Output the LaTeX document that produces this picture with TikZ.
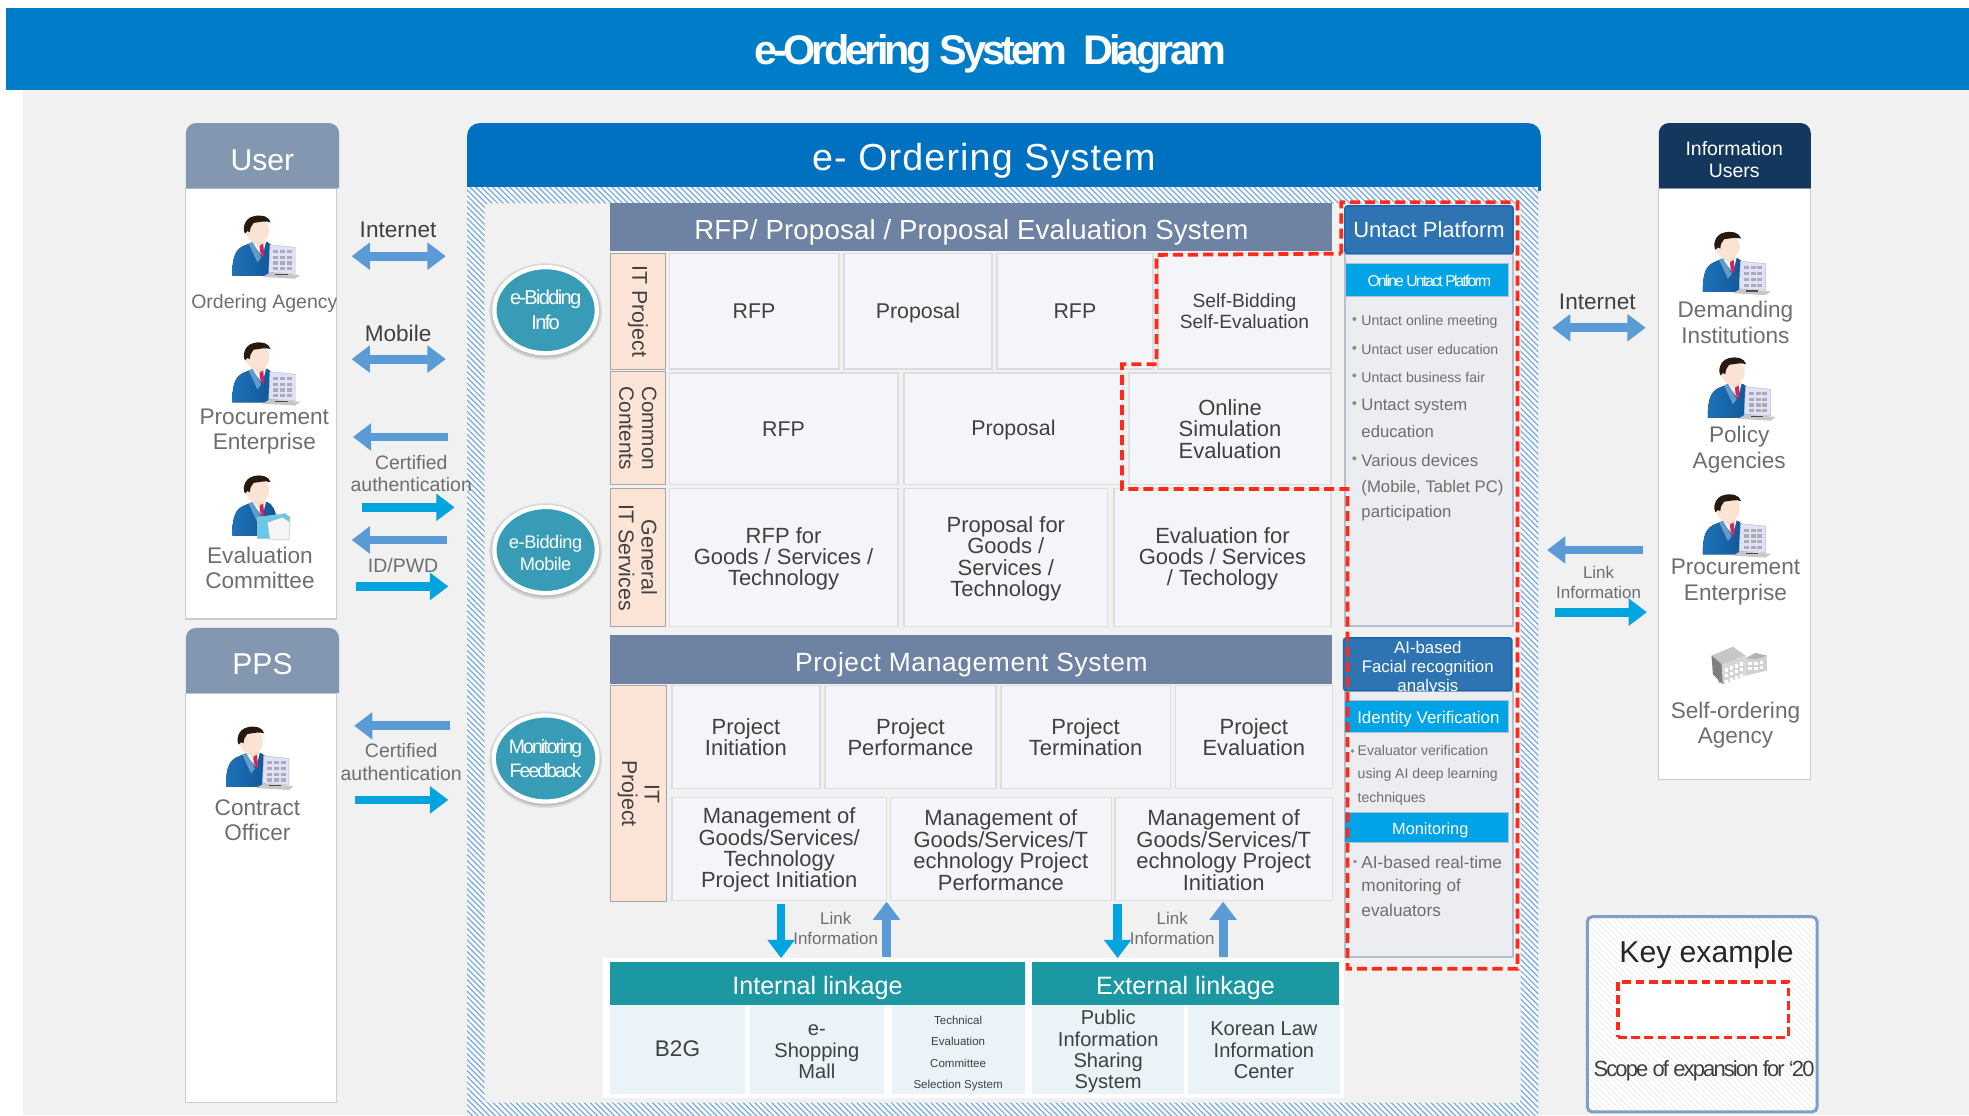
\documentclass[tikz,border=0pt]{standalone}
\usepackage{fontspec}
\setmainfont{Liberation Sans}
\usetikzlibrary{arrows.meta,patterns.meta,shapes.geometric}
\definecolor{headblue}{HTML}{007DC8}
\definecolor{pagegray}{HTML}{F1F1F1}
\definecolor{userhead}{HTML}{8497B0}
\definecolor{navyhead}{HTML}{14375E}
\definecolor{mainblue}{HTML}{0070C0}
\definecolor{slate}{HTML}{6E83A3}
\definecolor{peach}{HTML}{FCE4D6}
\definecolor{cellfill}{HTML}{F3F5F8}
\definecolor{celledge}{HTML}{DDDDDD}
\definecolor{teal1}{HTML}{389CB7}
\definecolor{teal2}{HTML}{1C98A3}
\definecolor{linkfill}{HTML}{EAF3F7}
\definecolor{platblue}{HTML}{2E73B2}
\definecolor{platedge}{HTML}{1468B4}
\definecolor{cyanbar}{HTML}{00A3E6}
\definecolor{panelfill}{HTML}{ECEDF0}
\definecolor{paneledge}{HTML}{B5BFD0}
\definecolor{arrowblue}{HTML}{5B9BD5}
\definecolor{arrowcyan}{HTML}{00A5E0}
\definecolor{dashred}{HTML}{FF2A1A}
\definecolor{txtgray}{HTML}{404040}
\definecolor{txtlight}{HTML}{6E6E6E}
\definecolor{hatchblue}{HTML}{7FAEE0}
\definecolor{keyedge}{HTML}{7F9FC4}
\definecolor{suitlight}{HTML}{1E72B8}
\definecolor{suitdark}{HTML}{0F5596}
\definecolor{facecol}{HTML}{FBE3D3}
\definecolor{tiecol}{HTML}{D0245E}
\newcommand\fz[2]{\fontsize{#1}{#2}\selectfont}
\newcommand\tightfont[1]{\addfontfeature{LetterSpace=#1}}
% box node given by its corners: style, name, x1, y1, x2, y2, text
\newcommand\bx[7]{%
  \pgfmathsetmacro\bxw{#5-#3}\pgfmathsetmacro\bxh{#6-#4}%
  \pgfmathsetmacro\bxx{(#3+#5)/2}\pgfmathsetmacro\bxy{(#4+#6)/2}%
  \node[#1,minimum width=\bxw pt,minimum height=\bxh pt,outer sep=0pt,inner sep=0pt,align=center] (#2) at (\bxx,\bxy) {#7};}
\tikzset{
  lbl/.style={align=center,inner sep=0pt,text=txtgray},
  wlbl/.style={align=center,inner sep=0pt,text=white},
  cellbox/.style={fill=cellfill,draw=celledge,line width=1.2pt,text=txtgray},
  tabbox/.style={fill=peach,draw=black!35,line width=0.8pt,text=txtgray},
  slatebar/.style={fill=slate,text=white},
  whitebody/.style={fill=white,draw=black!20,line width=1pt},
  platbar/.style={fill=platblue,draw=platedge,line width=1.2pt,rounded corners=2pt,text=white},
  cyanhead/.style={fill=cyanbar,draw=paneledge,line width=0.8pt,text=white},
  panelbox/.style={fill=panelfill,draw=paneledge,line width=1.5pt},
  tealbar/.style={fill=teal2,text=white},
  linkcell/.style={fill=linkfill,text=txtgray},
  ball/.style={ellipse,fill=teal1,draw=white,line width=3.4pt,minimum width=81.6pt,minimum height=68.6pt,inner sep=0pt,align=center,text=white},
  ballshadow/.style={fill=black,opacity=0.07},
  blockb/.style={draw=arrowblue,line width=7pt,-{Triangle[length=14.6pt,width=21pt]}},
  blockc/.style={draw=arrowcyan,line width=7pt,-{Triangle[length=14.6pt,width=21pt]}},
  blockd/.style={draw=arrowblue,line width=7pt,{Triangle[length=14.6pt,width=21pt]}-{Triangle[length=14.6pt,width=21pt]}},
  reddash/.style={draw=dashred,line width=3pt,dash pattern=on 8pt off 4pt},
  bullettext/.style={anchor=west,inner sep=0pt,text=txtlight},
  person/.pic={
    % body
    \fill[left color=suitlight,right color=suitdark] (0,48.5) .. controls (0,34) and (2,27) .. (11,24) -- (21,20) -- (28,22) .. controls (32,24) and (34,28) .. (35,34) -- (35,48.5) -- cycle;
    % shirt and tie
    \fill[white!90!gray] (15,22) -- (21,19) -- (27,21) -- (24,33) -- cycle;
    \fill[tiecol] (21.5,22) -- (24.5,22.5) -- (25.5,32) -- (24,34) -- (22,29) -- cycle;
    \fill[suitlight!70!white] (13,23) -- (16,21.5) -- (23,34) -- (20,38) -- cycle;
    % neck and face
    \fill[facecol!92!orange] (16,15) -- (26,15) -- (26,22) -- (21,25) -- (16,21) -- cycle;
    \fill[facecol] (20,12.5) ellipse [x radius=9.5,y radius=9.8];
    % hair
    \fill[black!80!brown] (10.2,15) .. controls (8,12) and (9,3) .. (17,1.2) .. controls (23,-0.3) and (29,1) .. (30.5,6) .. controls (26,4.5) and (22,6) .. (17,6.5) .. controls (15,8.5) and (14,11) .. (14,14) -- (12,13) -- cycle;
  },
  docsheet/.pic={
    \fill[black!22] (24,49.5) -- (50,51) -- (54,48) -- (30,46) -- cycle;
    \fill[white!88!blue,draw=black!25,line width=0.4pt] (30,24) -- (50,26) -- (50,47) -- (29,46) -- cycle;
    \foreach \r in {0,1,2,3}{\foreach \c in {0,1,2}{
      \fill[black!32] (32.5+5.5*\c,28+4.6*\r) rectangle ++(4,2.6);}}
    \fill[black!70] (34,47.2) rectangle (44,48.2);
  },
  folder/.pic={
    \fill[arrowcyan!60!white,draw=black!25,line width=0.4pt] (20,34) -- (42,31) -- (46,34) -- (43,51) -- (20,51) -- cycle;
    \fill[white!92!gray,draw=black!25,line width=0.4pt] (28,38) -- (40,34) -- (46,38) -- (45,52) -- (30,52) -- cycle;
  },
  building/.pic={
    \fill[black!38] (0,8) -- (4,24) -- (6,29) -- (24,24) -- (26,10) -- cycle;
    \fill[black!22] (0,7) -- (17,0) -- (27,7) -- (8,14) -- cycle;
    \fill[black!50] (0,7) -- (8,14) -- (9,30) -- (1,22) -- cycle;
    \fill[black!16] (8,14) -- (27,7) -- (27,23) -- (9,30) -- cycle;
    \fill[black!18] (27,9) -- (44,7) -- (44,19) -- (27,23) -- cycle;
    \fill[black!30] (27,9) -- (35,5) -- (44,7) -- (36,10) -- cycle;
    \foreach \r in {0,1,2}{\foreach \c in {0,1,2,3}{
      \fill[white] (10.5+4*\c,17.2-1.6*\c+4.5*\r) rectangle ++(2.6,2.8);}}
    \foreach \r in {0,1}{\foreach \c in {0,1,2}{
      \fill[white] (29+4.6*\c,12.5-0.4*\c+4*\r) rectangle ++(3,2.4);}}
  },
}
\begin{document}
\begin{tikzpicture}[x=1pt,y=-1pt]
\useasboundingbox (0,0) rectangle (1568,888);
\fill[white] (0,0) rectangle (1568,888);
% page
\fill[pagegray] (18,72) rectangle (1568,888);
\bx{fill=headblue}{titlebar}{5}{6}{1568}{72}{}
\node[wlbl,font={\bfseries\fz{33}{33}\tightfont{-9.2}}] (title) at (788.5,43) {e-Ordering System~~Diagram};

% --- User panels
\bx{whitebody}{userbody}{148}{150}{268}{493}{}
\fill[userhead] (148,150) [rounded corners=8pt] -- (148,98) -- (270,98) [sharp corners] -- (270,150) -- cycle;
\node[wlbl,font={\fz{24}{24}}] (usertitle) at (209,128) {User};
\bx{whitebody}{ppsbody}{148}{552}{268}{878}{}
\fill[userhead] (148,552) [rounded corners=8pt] -- (148,500) -- (270,500) [sharp corners] -- (270,552) -- cycle;
\node[wlbl,font={\fz{24}{24}}] (ppstitle) at (209,529) {PPS};
\bx{whitebody}{infobody}{1321}{150}{1442}{621}{}
\fill[navyhead] (1321,150) [rounded corners=8pt] -- (1321,98) -- (1442,98) [sharp corners] -- (1442,150) -- cycle;
\node[wlbl,font={\fz{15.5}{18}}] (infotitle) at (1381,127) {Information\\Users};

% icons
\pic at (185,171) {person};
\pic at (185,171) {docsheet};
\pic at (185,272) {person};
\pic at (185,272) {docsheet};
\pic at (185,378) {person};
\pic at (185,378) {folder};
\pic at (180,578) {person};
\pic at (180,578) {docsheet};
\pic at (1356,184) {person};
\pic at (1356,184) {docsheet};
\pic at (1360,284) {person};
\pic at (1360,284) {docsheet};
\pic at (1356,393) {person};
\pic at (1356,393) {docsheet};
\pic at (1363,515) {building};

% panel labels
\node[lbl,text=txtlight,font={\fz{15.5}{15}}] (ordering) at (210.5,241.5) {Ordering Agency};
\node[lbl,text=txtlight,font={\fz{18}{20}}] (procl) at (210.5,344) {Procurement\\Enterprise};
\node[lbl,text=txtlight,font={\fz{18}{20}}] (evall) at (207,452) {Evaluation\\Committee};
\node[lbl,text=txtlight,font={\fz{18}{20}}] (contract) at (205,653) {Contract\\Officer};
\node[lbl,text=txtlight,font={\fz{18}{20.5}}] (demand) at (1382,257) {Demanding\\Institutions};
\node[lbl,text=txtlight,font={\fz{18}{20.5}}] (policy) at (1385,358) {Policy\\Agencies};
\node[lbl,text=txtlight,font={\fz{18}{20.5}}] (procr) at (1382,463.5) {Procurement\\Enterprise};
\node[lbl,text=txtlight,font={\fz{18}{20.5}}] (selfo) at (1382,577.5) {Self-ordering\\Agency};

% --- e-Ordering system frame
\fill[mainblue] (372,152) [rounded corners=10pt] -- (372,98) -- (1227,98) [sharp corners] -- (1227,152) -- cycle;
\node[wlbl,font={\fz{30}{30}\tightfont{3}}] (maintitle) at (783.5,128) {e- Ordering System};
\fill[white] (372,149) rectangle (1225,888);
\fill[pattern={Lines[angle=-45,distance=3.2pt,line width=1.1pt]},pattern color=hatchblue] (372,149) rectangle (1225,888);
\fill[pagegray,rounded corners=3pt] (386,162) rectangle (1211,878);

% circles
\foreach \cy in {247,438,604}{
  \foreach \gr in {2.5,1.5,0.5}{
    \fill[ballshadow] (434.5,\cy+1) ellipse [x radius=42.5+\gr,y radius=36+\gr];
  }
}
\node[ball,font={\fz{16}{20}\tightfont{-8.5}}] (ball1) at (434.5,247) {e-Bidding\\Info};
\node[ball] (ball2) at (434.5,438) {};
\node[wlbl,font={\fz{14.5}{18}\tightfont{-2.5}},yshift=-2.5pt] (ball2t) at (ball2) {e-Bidding\\Mobile};
\node[ball,font={\fz{15.5}{19}\tightfont{-10}}] (ball3) at (434.5,604) {Monitoring\\Feedback};

% --- RFP block
\bx{slatebar}{rfphead}{486}{162}{1061}{200}{}
\node[wlbl,font={\fz{22}{22}\tightfont{0.6}},yshift=-4pt] (rfptext) at (rfphead) {RFP/ Proposal / Proposal Evaluation System};
\bx{tabbox}{tab1}{486}{202}{530}{294}{}
\node[lbl,rotate=-90,font={\fz{17}{18}}] (tab1t) at (tab1) {IT Project};
\bx{tabbox}{tab2}{486}{296}{530}{386}{}
\node[lbl,rotate=-90,font={\fz{16.5}{18}}] (tab2t) at (tab2) {Common\\Contents};
\bx{tabbox}{tab3}{486}{389}{530}{499}{}
\node[lbl,rotate=-90,font={\fz{17}{18}}] (tab3t) at (tab3) {General\\IT Services};

\bx{cellbox,font={\fz{17}{17}}}{r11}{533}{202}{668}{294}{RFP}
\bx{cellbox}{r12}{672}{202}{790}{294}{}
\node[lbl,font={\fz{17}{17}},yshift=-1pt] (r12t) at (r12) {Proposal};
\bx{cellbox,font={\fz{17}{17}}}{r13}{794}{202}{918}{294}{RFP}
\bx{cellbox,font={\fz{15.3}{17}}}{r14}{922}{202}{1060}{294}{Self-Bidding\\Self-Evaluation}
\bx{cellbox,font={\fz{17}{17}}}{r21}{533}{297}{715}{386}{RFP}
\bx{cellbox}{r22}{720}{297}{894}{386}{}
\node[lbl,font={\fz{17}{17}},yshift=-1pt] (r22t) at (r22) {Proposal};
\bx{cellbox,font={\fz{17.5}{17}}}{r23}{899}{297}{1060}{386}{Online\\Simulation\\Evaluation}
\bx{cellbox}{r31}{533}{389}{715}{499}{}
\node[lbl,font={\fz{17.5}{17}},yshift=-1pt] (r31t) at (r31) {RFP for\\Goods / Services /\\Technology};
\bx{cellbox}{r32}{720}{389}{882}{499}{}
\node[lbl,font={\fz{17.5}{17}},yshift=-1pt] (r32t) at (r32) {Proposal for\\Goods /\\Services /\\Technology};
\bx{cellbox}{r33}{887}{389}{1060}{499}{}
\node[lbl,font={\fz{17.5}{17}},yshift=-1pt] (r33t) at (r33) {Evaluation for\\Goods / Services\\/ Techology};

% --- Project management block
\bx{slatebar}{pmhead}{486}{506}{1061}{545}{}
\node[wlbl,font={\fz{21}{21}\tightfont{2.4}},yshift=-3.5pt] (pmtext) at (pmhead) {Project Management System};
\bx{tabbox}{tab4}{486}{546}{531}{718}{}
\node[lbl,rotate=-90,font={\fz{17}{18}}] (tab4t) at (tab4) {IT\\Project};
\bx{cellbox,font={\fz{17.5}{17}}}{p11}{535}{546}{653}{628}{Project\\Initiation}
\bx{cellbox,font={\fz{17.5}{17}}}{p12}{657}{546}{793}{628}{Project\\Performance}
\bx{cellbox,font={\fz{17.5}{17}}}{p13}{797}{546}{932}{628}{Project\\Termination}
\bx{cellbox,font={\fz{17.5}{17}}}{p14}{936}{546}{1061}{628}{Project\\Evaluation}
\bx{cellbox}{p21}{535}{635}{706}{717}{}
\node[lbl,font={\fz{17.5}{17}},yshift=-1pt] (p21t) at (p21) {Management of\\Goods/Services/\\Technology\\Project Initiation};
\bx{cellbox}{p22}{709}{635}{885}{717}{}
\node[lbl,font={\fz{17.5}{17}},yshift=-1pt] (p22t) at (p22) {Management of\\Goods/Services/T\\echnology Project\\Performance};
\bx{cellbox}{p23}{888}{635}{1061}{717}{}
\node[lbl,font={\fz{17.5}{17}},yshift=-1pt] (p23t) at (p23) {Management of\\Goods/Services/T\\echnology Project\\Initiation};

% --- Linkage
\fill[white] (480,763) rectangle (1070,874);
\bx{tealbar}{inthead}{486}{766}{816}{800}{}
\node[wlbl,font={\fz{20}{20}},yshift=-3.5pt] (inttext) at (inthead) {Internal linkage};
\bx{tealbar}{exthead}{822}{766}{1066}{800}{}
\node[wlbl,font={\fz{20}{20}},yshift=-3.5pt] (exttext) at (exthead) {External linkage};
\bx{linkcell,font={\fz{18}{18}}}{l1}{486}{800}{593}{871}{B2G}
\bx{linkcell}{l2}{597}{800}{704}{871}{}
\node[lbl,font={\fz{16}{17}},yshift=-2pt] (l2t) at (l2) {e-\\Shopping\\Mall};
\bx{linkcell}{l3}{710}{800}{816}{871}{}
\node[lbl,font={\fz{9.2}{17}},yshift=-3.5pt] (l3t) at (l3) {Technical\\Evaluation\\Committee\\Selection System};
\bx{linkcell}{l4}{822}{800}{943}{871}{}
\node[lbl,font={\fz{16}{17}},yshift=-2pt] (l4t) at (l4) {Public\\Information\\Sharing\\System};
\bx{linkcell}{l5}{946}{800}{1067}{871}{}
\node[lbl,font={\fz{16}{17}},yshift=-1pt] (l5t) at (l5) {Korean Law\\Information\\Center};

% --- Untact column
\bx{panelbox}{upanel1}{1071}{202}{1205}{498.5}{}
\bx{platbar,font={\fz{17.5}{18}}}{uhead}{1071}{164}{1205}{202}{Untact Platform}
\bx{cyanhead}{ubar}{1071.5}{210}{1201}{236}{}
\node[wlbl,font={\fz{12.5}{13}\tightfont{-11.5}},xshift=2pt,yshift=-0.5pt] (ubart) at (ubar) {Online Untact Platform};
\foreach \yy/\tx/\sz [count=\i] in {256/Untact online meeting/11.2,278.5/Untact user education/11.2,300.5/Untact business fair/11.2,324/Untact system/13.3,343.5/education/13.3,366.5/Various devices/13.3,388.5/{(Mobile, Tablet PC)}/13.3,409/participation/13.3}{
  \node[bullettext,font={\fz{\sz}{\sz}}] (ut\i) at (1084,\yy) {\tx};
}
\foreach \yy in {254,277,299,321,365}{\fill[black!45] (1078.5,\yy) circle (1.6);}

\bx{panelbox}{upanel2}{1071}{550}{1205}{762}{}
\bx{platbar}{aihead}{1070}{508}{1204}{550}{}
\node[wlbl,font={\fz{13.4}{15}},yshift=-3pt] (aitext) at (aihead) {AI-based\\Facial recognition\\analysis};
\bx{cyanhead}{idbar}{1071}{558}{1201}{583}{}
\node[wlbl,font={\fz{13.5}{14}},xshift=1.5pt,yshift=-2.5pt] (idtext) at (idbar) {Identity Verification};
\foreach \yy/\tx [count=\i] in {598/Evaluator verification,617/using AI deep learning,636/techniques}{
  \node[bullettext,font={\fz{11.2}{11}}] (ev\i) at (1081,\yy) {\tx};
}
\fill[black!45] (1077,598) circle (1.5);
\bx{cyanhead}{monbar}{1071}{647}{1201}{671}{}
\node[wlbl,font={\fz{13}{14}},xshift=3pt,yshift=-2pt] (montext) at (monbar) {Monitoring};
\foreach \yy/\tx [count=\i] in {687/AI-based real-time,706/monitoring of,725/evaluators}{
  \node[bullettext,font={\fz{13.7}{13}}] (am\i) at (1084,\yy) {\tx};
}
\fill[black!45] (1079,686) circle (1.5);

% --- Red expansion outline
\draw[reddash] (1068,202) -- (1068,161) -- (1208.5,161) -- (1208.5,771.5) -- (1073,771.5) -- (1073,389.5) -- (893.5,389.5) -- (893.5,290) -- (921,290) -- (921,203) -- cycle;

% --- Key
\path[fill=white,rounded corners=4pt] (1264,730) rectangle (1447,885.5);
\fill[pattern={Lines[angle=-45,distance=3.2pt,line width=0.7pt]},pattern color=black!7,rounded corners=4pt] (1264,730) rectangle (1447,885.5);
\draw[keyedge,line width=2.4pt,rounded corners=4pt] (1264,730) rectangle (1447,885.5);
\node[lbl,text=black!85,font={\fz{24}{24}}] (keytitle) at (1359,760.5) {Key example};
\bx{fill=white,draw=dashred,line width=2.6pt,dash pattern=on 7pt off 3.5pt}{keyrect}{1288.5}{782}{1424}{826}{}
\node[lbl,text=txtgray,font={\fz{17.5}{18}\tightfont{-8.5}}] (keynote) at (1357,852.5) {Scope of expansion for ‘20};

% --- Link labels
\node[lbl,font={\fz{18}{18}}] (lInternet) at (317,183) {Internet};
\node[lbl,font={\fz{18}{18}}] (lMobile) at (317,265.5) {Mobile};
\node[lbl,text=txtlight,font={\fz{15.5}{18}}] (lCert) at (327.5,377) {Certified\\authentication};
\node[lbl,text=txtlight,font={\fz{15.5}{15.5}}] (lId) at (321,450) {ID/PWD};
\node[lbl,text=txtlight,font={\fz{15.5}{18}}] (lCert2) at (319.5,607) {Certified\\authentication};
\node[lbl,font={\fz{18}{18}}] (rInternet) at (1272,240) {Internet};
\node[lbl,text=txtlight,font={\fz{13.5}{15.5}}] (rLink) at (1273,464) {Link\\Information};
\node[lbl,text=txtlight,font={\fz{13.5}{15.5}}] (vLink1) at (665.5,739.5) {Link\\Information};
\node[lbl,text=txtlight,font={\fz{13.5}{15.5}}] (vLink2) at (933.5,739.5) {Link\\Information};

% --- Connector end points
\foreach \n/\xx/\yy in {a1/355/204,a2/280/204,b1/355/286,b2/280/286,c1/357/348,c2/281/348,d1/288/404,d2/362/404,e1/356/430,e2/280/430,f1/283.5/467,f2/357/467,g1/358/578,g2/282/578,h1/283/637,h2/357/637,i1/1310.5/261,i2/1236/261,j1/1308/438,j2/1232/438,k1/1238/487.5,k2/1311.5/487.5,m1/622/720,m2/622/763,n1/706/762,n2/706/718,o1/890/720,o2/890/763,q1/974/762,q2/974/718}{
  \coordinate (\n) at (\xx,\yy);
}
\draw[blockd] (a2) -- (a1);
\draw[blockd] (b2) -- (b1);
\draw[blockb] (c1) -- (c2);
\draw[blockc] (d1) -- (d2);
\draw[blockb] (e1) -- (e2);
\draw[blockc] (f1) -- (f2);
\draw[blockb] (g1) -- (g2);
\draw[blockc] (h1) -- (h2);
\draw[blockd] (i2) -- (i1);
\draw[blockb] (j1) -- (j2);
\draw[blockc] (k1) -- (k2);
\draw[blockc] (m1) -- (m2);
\draw[blockb] (n1) -- (n2);
\draw[blockc] (o1) -- (o2);
\draw[blockb] (q1) -- (q2);
\end{tikzpicture}
\end{document}
